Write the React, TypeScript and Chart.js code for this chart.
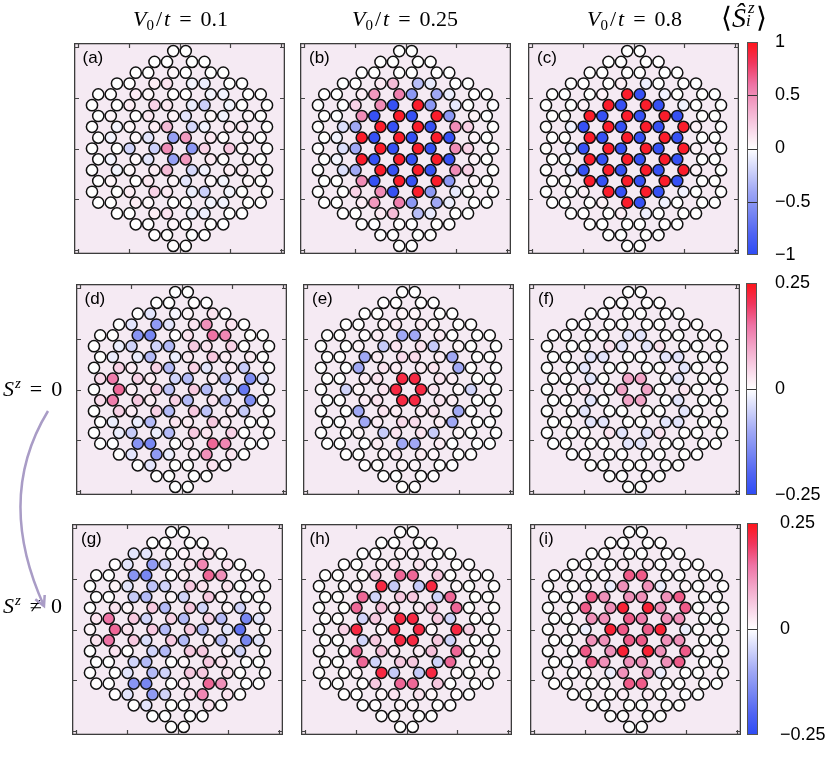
import React, { useEffect, useRef } from "react";
import { Chart, registerables } from "chart.js";
Chart.register(...registerables);

// ---------- lattice description (honeycomb flake, rows from top k=-9 to bottom k=9) ----------
const ROW_K = [-9, -8, -7, -6, -5, -4, -3, -2, -1, 0, 1, 2, 3, 4, 5, 6, 7, 8, 9];
const ODD_ROW_X = [-6.5, -5.5, -3.5, -2.5, -0.5, 0.5, 2.5, 3.5, 5.5, 6.5];
const EVEN_ROW_X = [-7, -5, -4, -2, -1, 1, 2, 4, 5, 7];
const ROW_HALF_WIDTH = [0.5, 2, 3.5, 5, 6.5, 7, 6.5, 7, 6.5, 7, 6.5, 7, 6.5, 7, 6.5, 5, 3.5, 2, 0.5];
const ROW_STEP = Math.sqrt(3) / 2;

// ---------- <S_i^z> values, row by row (left to right) ----------
const SZ_A = [
  [0, 0],
  [0, 0, 0, 0],
  [0, 0, 0.04, 0, 0, 0],
  [0, 0, 0.08, 0.12, -0.05, -0.08, 0, 0],
  [0, 0, 0.08, 0.03, 0, 0, -0.05, -0.06, 0, 0],
  [0, 0, 0.08, 0.2, 0.1, -0.08, -0.22, -0.05, 0, 0],
  [0, 0.04, 0, 0.1, 0.05, -0.12, 0.03, -0.05, 0.04, 0],
  [0, -0.05, 0.03, 0.08, 0.3, -0.18, -0.06, 0.08, 0.08, 0],
  [0, -0.05, 0.03, -0.12, -0.45, 0.45, 0.1, 0.02, 0.05, 0],
  [0, 0, -0.2, -0.22, 0.5, -0.5, 0.2, 0.25, 0.03, 0],
  [0, -0.05, 0.03, -0.12, -0.45, 0.45, 0.1, 0.02, 0.05, 0],
  [0, -0.05, 0.03, 0.08, 0.3, -0.18, -0.06, 0.08, 0.08, 0],
  [0, 0.04, 0, 0.1, 0.05, -0.12, 0.03, -0.05, 0.04, 0],
  [0, 0, 0.08, 0.2, 0.1, -0.08, -0.22, -0.05, 0, 0],
  [0, 0, 0.08, 0.03, 0, 0, -0.05, -0.06, 0, 0],
  [0, 0, 0.08, 0.12, -0.05, -0.08, 0, 0],
  [0, 0, 0.04, 0, 0, 0],
  [0, 0, 0, 0],
  [0, 0],
];
const SZ_B = [
  [0, 0],
  [0, 0, 0, 0],
  [0, 0, 0, 0, 0, 0],
  [0, 0, 0.1, 0.3, -0.3, -0.1, 0, 0],
  [0, 0, 0.08, 0.45, 0.55, -0.5, -0.4, -0.08, 0, 0],
  [0, 0, 0.2, 0.5, -0.95, 0.95, -0.5, -0.1, 0, 0],
  [0, 0, 0.5, -0.95, 0.95, -0.95, 0.95, -0.5, 0.05, 0],
  [0, -0.15, -0.4, 0.95, -0.95, 0.95, -0.95, 0.5, 0.2, 0],
  [0, -0.05, 0.95, -0.95, 0.95, -0.95, 0.95, -0.95, 0.05, 0],
  [0, -0.15, -0.4, 0.95, -0.95, 0.95, -0.95, 0.5, 0.2, 0],
  [0, -0.05, 0.95, -0.95, 0.95, -0.95, 0.95, -0.95, 0.05, 0],
  [0, -0.15, -0.4, 0.95, -0.95, 0.95, -0.95, 0.5, 0.2, 0],
  [0, 0, 0.5, -0.95, 0.95, -0.95, 0.95, -0.5, 0.05, 0],
  [0, 0, 0.2, 0.5, -0.95, 0.95, -0.5, -0.1, 0, 0],
  [0, 0, 0.08, 0.45, 0.55, -0.5, -0.4, -0.08, 0, 0],
  [0, 0, 0.1, 0.3, -0.3, -0.1, 0, 0],
  [0, 0, 0, 0, 0, 0],
  [0, 0, 0, 0],
  [0, 0],
];
const SZ_C = [
  [0, 0],
  [0, 0, 0, 0],
  [0, 0, 0, 0, 0, 0],
  [0, 0, 0, 0.07, -0.07, 0, 0, 0],
  [0, 0, 0, 0.06, 0.95, -0.95, -0.06, 0, 0, 0],
  [0, 0, 0.06, 0.95, -0.95, 0.95, -0.95, -0.06, 0, 0],
  [0, 0, 0.95, -0.95, 0.95, -0.95, 0.95, -0.95, 0, 0],
  [0, -0.06, -0.95, 0.95, -0.95, 0.95, -0.95, 0.95, 0.06, 0],
  [0, 0, 0.95, -0.95, 0.95, -0.95, 0.95, -0.95, 0, 0],
  [0, -0.06, -0.95, 0.95, -0.95, 0.95, -0.95, 0.95, 0.06, 0],
  [0, 0, 0.95, -0.95, 0.95, -0.95, 0.95, -0.95, 0, 0],
  [0, -0.06, -0.95, 0.95, -0.95, 0.95, -0.95, 0.95, 0.06, 0],
  [0, 0, 0.95, -0.95, 0.95, -0.95, 0.95, -0.95, 0, 0],
  [0, 0, 0.06, 0.95, -0.95, 0.95, -0.95, -0.06, 0, 0],
  [0, 0, 0, 0.06, 0.95, -0.95, -0.06, 0, 0, 0],
  [0, 0, 0, 0.07, -0.07, 0, 0, 0],
  [0, 0, 0, 0, 0, 0],
  [0, 0, 0, 0],
  [0, 0],
];
const SZ_D = [
  [0, 0],
  [0, 0, 0, 0],
  [0, -0.03, -0.01, 0.01, 0.03, 0],
  [0, -0.03, -0.12, -0.03, 0.03, 0.12, 0.03, 0],
  [0, 0, -0.13, -0.15, 0, 0.03, 0.15, 0.13, 0, 0],
  [0, -0.02, -0.05, -0.05, -0.08, 0.06, 0.03, 0.05, 0, 0],
  [0, -0.02, -0.02, -0.08, -0.02, 0.02, 0.06, 0.02, 0.02, 0],
  [0, 0.05, 0.02, 0.05, -0.08, 0.05, -0.03, 0.02, -0.06, 0],
  [0.04, 0.14, 0.05, 0.02, -0.05, -0.08, 0.02, -0.08, -0.14, -0.03],
  [0, 0.16, 0.02, 0.05, -0.07, 0.06, -0.08, -0.02, -0.17, 0],
  [0.04, 0.14, 0.06, 0.02, 0.05, -0.08, 0.03, -0.08, -0.14, 0],
  [0, 0.05, 0.02, 0.05, -0.08, 0.06, -0.07, 0.02, -0.06, 0],
  [0, -0.02, -0.02, -0.08, 0.03, 0.02, 0.06, 0.02, 0, 0],
  [0, -0.02, -0.06, -0.02, -0.08, 0.06, 0.03, 0.05, 0, 0],
  [0, 0, -0.13, -0.15, 0, 0.02, 0.16, 0.13, 0, 0],
  [0, -0.03, -0.12, -0.02, 0.02, 0.12, 0.03, 0],
  [0, -0.03, 0, 0, 0.03, 0],
  [0, 0, 0, 0],
  [0, 0],
];
const SZ_E = [
  [0, 0],
  [0, 0, 0, 0],
  [0, 0, 0.01, 0.01, 0, 0],
  [0, 0, 0.01, 0.02, 0.02, 0.01, 0, 0],
  [0, 0, 0, 0.02, -0.1, -0.1, 0.02, 0, 0, 0],
  [0, 0, 0.01, -0.06, 0.03, 0.03, -0.06, 0.01, 0, 0],
  [0, 0, -0.1, 0.02, 0.04, 0.04, 0.02, -0.1, 0, 0],
  [0, 0, -0.1, 0.03, 0.02, 0.02, 0.03, -0.1, 0, 0],
  [0, 0, 0.02, 0.03, 0.22, 0.22, 0.03, 0.02, 0, 0],
  [0, -0.05, 0.01, 0.03, 0.22, 0.22, 0.03, 0.01, -0.05, 0],
  [0, 0, 0.02, 0.03, 0.22, 0.22, 0.03, 0.02, 0, 0],
  [0, 0, -0.1, 0.03, 0.02, 0.02, 0.03, -0.1, 0, 0],
  [0, 0, -0.1, 0.02, 0.04, 0.04, 0.02, -0.1, 0, 0],
  [0, 0, 0.01, -0.06, 0.03, 0.03, -0.06, 0.01, 0, 0],
  [0, 0, 0, 0.02, -0.1, -0.1, 0.02, 0, 0, 0],
  [0, 0, 0.01, 0.02, 0.02, 0.01, 0, 0],
  [0, 0, 0.01, 0.01, 0, 0],
  [0, 0, 0, 0],
  [0, 0],
];
const SZ_F = [
  [0, 0],
  [0, 0, 0, 0],
  [0, 0, 0, 0, 0, 0],
  [0, 0, 0, 0, 0, 0, 0, 0],
  [0, 0, 0, 0, -0.03, -0.03, 0, 0, 0, 0],
  [0, 0, 0, 0.03, -0.03, -0.03, 0.03, 0, 0, 0],
  [0, 0, -0.03, -0.03, 0, 0, -0.03, -0.03, 0, 0],
  [0, 0, -0.03, 0, 0, 0, 0, -0.03, 0, 0],
  [0, 0, -0.03, 0, 0.1, 0.1, 0, -0.03, 0, 0],
  [0, 0, 0.03, 0, 0.1, 0.1, 0, 0.03, 0, 0],
  [0, 0, -0.03, 0, 0.1, 0.1, 0, -0.03, 0, 0],
  [0, 0, -0.03, 0, 0, 0, 0, -0.03, 0, 0],
  [0, 0, -0.03, -0.03, 0, 0, -0.03, -0.03, 0, 0],
  [0, 0, 0, 0.03, -0.03, -0.03, 0.03, 0, 0, 0],
  [0, 0, 0, 0, -0.03, -0.03, 0, 0, 0, 0],
  [0, 0, 0, 0, 0, 0, 0, 0],
  [0, 0, 0, 0, 0, 0],
  [0, 0, 0, 0],
  [0, 0],
];
const SZ_G = [
  [0, 0],
  [0, 0, 0, 0],
  [-0.03, -0.03, 0, 0.01, 0.03, 0],
  [0, -0.03, -0.12, -0.05, 0.03, 0.13, 0.03, 0],
  [0, 0, -0.13, -0.15, 0, 0.02, 0.16, 0.12, 0, 0],
  [0, 0.01, -0.03, -0.07, -0.05, 0.06, 0.03, 0.03, 0, 0],
  [0, 0, -0.06, -0.08, 0.01, -0.05, 0.06, 0.01, 0, 0],
  [0, 0.03, 0.01, 0.06, -0.08, 0.06, -0.05, 0.01, -0.05, 0],
  [0.03, 0.15, 0.06, -0.05, 0.05, -0.08, 0.05, -0.08, -0.15, -0.03],
  [0.01, 0.16, 0.03, 0.06, -0.08, 0.06, -0.08, -0.03, -0.18, 0],
  [0.03, 0.15, 0.06, -0.04, 0.06, -0.08, 0.02, -0.08, -0.15, -0.03],
  [0, 0.03, 0, -0.05, -0.08, 0.06, 0.06, 0.01, -0.05, 0],
  [0, 0, -0.05, -0.08, 0, 0.01, 0.06, 0.03, 0, 0],
  [0, 0, -0.03, -0.08, -0.05, 0.06, 0.06, 0.03, 0, 0],
  [0, 0, -0.13, -0.15, 0, 0.02, 0.16, 0.12, 0, 0],
  [0, -0.03, -0.12, -0.05, 0.03, 0.13, 0.03, 0],
  [0, -0.03, 0, 0, 0.03, 0],
  [0, 0, 0, 0],
  [0, 0],
];
const SZ_H = [
  [0, 0],
  [0, 0, 0, 0],
  [0, 0, 0.01, 0.01, 0, 0],
  [0, 0, 0.01, 0.03, 0.03, 0.01, 0, 0],
  [0, 0, 0, 0.06, 0.16, 0.16, 0.06, 0, 0, 0],
  [0, 0, 0.01, 0.22, -0.06, -0.06, 0.22, 0.01, 0, 0],
  [0, 0, 0.16, -0.05, 0.06, 0.06, -0.05, 0.16, 0, 0],
  [0, 0, 0.16, 0.07, 0.02, 0.02, 0.07, 0.16, 0, 0],
  [0, 0, -0.05, 0.06, 0.22, 0.22, 0.06, -0.05, 0, 0],
  [0, 0.05, 0.22, 0.01, 0.22, 0.22, 0.01, 0.22, 0.05, 0],
  [0, 0, -0.05, 0.06, 0.22, 0.22, 0.06, -0.05, 0, 0],
  [0, 0, 0.16, 0.07, 0.02, 0.02, 0.07, 0.16, 0, 0],
  [0, 0, 0.16, -0.05, 0.06, 0.06, -0.05, 0.16, 0, 0],
  [0, 0, 0.01, 0.22, -0.06, -0.06, 0.22, 0.01, 0, 0],
  [0, 0, 0, 0.06, 0.16, 0.16, 0.06, 0, 0, 0],
  [0, 0, 0.01, 0.03, 0.03, 0.01, 0, 0],
  [0, 0, 0.01, 0.01, 0, 0],
  [0, 0, 0, 0],
  [0, 0],
];
const SZ_I = [
  [0, 0],
  [0, 0, 0, 0],
  [0, 0, 0, 0, 0, 0],
  [0, 0, 0, 0.02, 0.02, 0, 0, 0],
  [0, 0, 0, 0, 0.17, 0.17, 0, 0, 0, 0],
  [0, 0, 0, -0.02, 0.12, 0.12, -0.02, 0.01, 0, 0],
  [0, 0, 0.17, 0.12, 0.12, 0.12, 0.12, 0.17, 0, 0],
  [0, 0, 0.17, 0.12, 0.23, 0.23, 0.12, 0.17, 0, 0],
  [0, 0, 0.12, 0.12, 0.17, 0.14, 0.12, 0.12, 0, 0],
  [0, 0, -0.02, 0.23, 0.17, 0.17, 0.23, -0.02, 0, 0],
  [0, 0, 0.12, 0.12, 0.17, 0.17, 0.12, 0.12, 0, 0],
  [0, 0, 0.17, 0.12, 0.23, 0.23, 0.12, 0.17, 0, 0],
  [0, 0, 0.17, 0.12, 0.12, 0.12, 0.12, 0.17, 0, 0],
  [0, 0, 0, -0.02, 0.12, 0.12, -0.02, 0, 0, 0],
  [0, 0, 0, 0, 0.17, 0.17, 0, 0, 0, 0],
  [0, 0, 0, 0.02, 0.02, 0, 0, 0],
  [0, 0, 0, 0, 0, 0],
  [0, 0, 0, 0],
  [0, 0],
];

const PANEL_LABELS = ["(a)", "(b)", "(c)", "(d)", "(e)", "(f)", "(g)", "(h)", "(i)"];
const TITLE_VALUES = ["0.1", "0.25", "0.8"];
const CB_TICKS_TOP = [-1, -0.5, 0, 0.5, 1];
const CB_LINES_TOP = [-0.5, 0, 0.5];
const CB_TICKS_LOW = [-0.25, 0, 0.25];
const CB_LINES_LOW = [0];
const FRAME_TICKS = [-8.12, -4.06, 0, 4.06, 8.12];

// colormap (value normalised to -1..1)
const CMAP_POS = [-1, -0.8, -0.6, -0.4, -0.2, 0, 0.2, 0.4, 0.6, 0.8, 1];
const CMAP_RGB = [
  [45, 75, 245], [80, 100, 242], [120, 135, 242], [160, 168, 245], [208, 212, 250],
  [255, 255, 255],
  [248, 210, 230], [242, 165, 200], [238, 115, 165], [240, 55, 95], [255, 20, 25],
];

const BG = "#f5eaf3";
const FRAME = "#3c3c3c";
const AXIS_HALF = 8.44;
const PANEL_SIZE = 211;
const SANS = '"Liberation Sans", Arial, sans-serif';
const SERIF = '"Liberation Serif", "Times New Roman", serif';

function colormap(t: number): string {
  const v = Math.max(-1, Math.min(1, t));
  for (let i = 0; i < CMAP_POS.length - 1; i++) {
    if (v <= CMAP_POS[i + 1]) {
      const f = (v - CMAP_POS[i]) / (CMAP_POS[i + 1] - CMAP_POS[i]);
      const a = CMAP_RGB[i], b = CMAP_RGB[i + 1];
      const c = a.map((x, j) => Math.round(x + (b[j] - x) * f));
      return `rgb(${c[0]},${c[1]},${c[2]})`;
    }
  }
  const l = CMAP_RGB[CMAP_RGB.length - 1];
  return `rgb(${l[0]},${l[1]},${l[2]})`;
}

function rowSites(k: number): number[] {
  const base = Math.abs(k) % 2 === 1 ? ODD_ROW_X : EVEN_ROW_X;
  const half = ROW_HALF_WIDTH[k + 9];
  return base.filter((x) => Math.abs(x) <= half + 1e-9);
}

const panelFramePlugin = {
  id: "panelFrame",
  beforeDraw(chart: any) {
    const { ctx, chartArea: a } = chart;
    ctx.save();
    ctx.fillStyle = BG;
    ctx.fillRect(a.left, a.top, a.right - a.left, a.bottom - a.top);
    ctx.restore();
  },
  afterDraw(chart: any) {
    const { ctx, chartArea: a, scales } = chart;
    ctx.save();
    ctx.strokeStyle = FRAME;
    ctx.lineWidth = 1.3;
    ctx.strokeRect(a.left + 0.65, a.top + 0.65, a.right - a.left - 1.3, a.bottom - a.top - 1.3);
    ctx.lineWidth = 1.2;
    ctx.strokeStyle = "#444";
    const L = 5;
    ctx.beginPath();
    FRAME_TICKS.forEach((v) => {
      const px = Math.round(scales.x.getPixelForValue(v)) + 0.5;
      const py = Math.round(scales.y.getPixelForValue(v)) + 0.5;
      ctx.moveTo(px, a.top); ctx.lineTo(px, a.top + L);
      ctx.moveTo(px, a.bottom); ctx.lineTo(px, a.bottom - L);
      ctx.moveTo(a.left, py); ctx.lineTo(a.left + L, py);
      ctx.moveTo(a.right, py); ctx.lineTo(a.right - L, py);
    });
    ctx.stroke();
    ctx.restore();
  },
};

function Panel({ values, range, label, cx, cy }: any) {
  const ref = useRef<HTMLCanvasElement>(null);
  useEffect(() => {
    const points: { x: number; y: number }[] = [];
    const colors: string[] = [];
    ROW_K.forEach((k, r) => {
      rowSites(k).forEach((x, j) => {
        points.push({ x, y: -k * ROW_STEP });
        colors.push(colormap(values[r][j] / range));
      });
    });
    const chart = new Chart(ref.current as HTMLCanvasElement, {
      type: "scatter",
      data: {
        datasets: [
          {
            data: points,
            pointRadius: 5.6,
            pointHoverRadius: 5.6,
            pointBackgroundColor: colors,
            pointBorderColor: "#111",
            pointBorderWidth: 1.5,
            pointHoverBorderWidth: 1.5,
          } as any,
        ],
      },
      options: {
        animation: false,
        responsive: false,
        events: [],
        layout: { padding: 0, autoPadding: false },
        plugins: { legend: { display: false }, tooltip: { enabled: false } },
        scales: {
          x: { type: "linear", display: false, min: -AXIS_HALF, max: AXIS_HALF },
          y: { type: "linear", display: false, min: -AXIS_HALF, max: AXIS_HALF },
        },
      },
      plugins: [panelFramePlugin],
    });
    return () => chart.destroy();
  }, []);
  const left = cx - PANEL_SIZE / 2;
  const top = cy - PANEL_SIZE / 2;
  return (
    <>
      <canvas
        ref={ref}
        width={PANEL_SIZE}
        height={PANEL_SIZE}
        style={{ position: "absolute", left, top, width: PANEL_SIZE, height: PANEL_SIZE }}
      />
      <div style={{ position: "absolute", left: left + 9, top: top + 5, fontFamily: SANS, fontSize: 17, lineHeight: "20px" }}>
        {label}
      </div>
    </>
  );
}

function fmt(v: number): string {
  if (v === 0) return "0";
  return v < 0 ? "\u2212" + String(-v) : String(v);
}

function Colorbar({ left, top, height, range, ticks, lines, pad }: any) {
  const ref = useRef<HTMLCanvasElement>(null);
  const BAR_W = 11;
  const AXIS_W = 78;
  const PADV = 40;
  useEffect(() => {
    const cbPlugin = {
      id: "cbGrad",
      beforeDatasetsDraw(chart: any) {
        const { ctx, chartArea: a, scales } = chart;
        ctx.save();
        const g = ctx.createLinearGradient(0, a.bottom, 0, a.top);
        CMAP_POS.forEach((p, i) => {
          const c = CMAP_RGB[i];
          g.addColorStop((p + 1) / 2, `rgb(${c[0]},${c[1]},${c[2]})`);
        });
        ctx.fillStyle = g;
        ctx.fillRect(a.left, a.top, a.right - a.left, a.bottom - a.top);
        ctx.strokeStyle = "#333";
        ctx.lineWidth = 1;
        ctx.beginPath();
        lines.forEach((v: number) => {
          const py = Math.round(scales.y.getPixelForValue(v)) + 0.5;
          ctx.moveTo(a.left, py);
          ctx.lineTo(a.right, py);
        });
        ctx.stroke();
        ctx.strokeStyle = "#555";
        ctx.strokeRect(a.left + 0.5, a.top + 0.5, a.right - a.left - 1, a.bottom - a.top - 1);
        ctx.restore();
      },
    };
    const chart = new Chart(ref.current as HTMLCanvasElement, {
      type: "scatter",
      data: { datasets: [{ data: [] }] },
      options: {
        animation: false,
        responsive: false,
        events: [],
        layout: { padding: { top: PADV, bottom: PADV, left: 0, right: 0 }, autoPadding: false },
        plugins: { legend: { display: false }, tooltip: { enabled: false } },
        scales: {
          x: { type: "linear", display: false, min: 0, max: 1 },
          y: {
            type: "linear",
            position: "right",
            min: -range,
            max: range,
            afterBuildTicks: (s: any) => {
              s.ticks = ticks.map((v: number) => ({ value: v }));
            },
            afterFit: (s: any) => {
              s.width = AXIS_W;
              s.paddingTop = 0;
              s.paddingBottom = 0;
            },
            grid: { display: false, drawTicks: false },
            border: { display: false },
            ticks: {
              padding: pad,
              color: "#000",
              crossAlign: "near",
              font: { family: SANS, size: 18 },
              callback: (v: any) => fmt(Number(v)),
            },
          },
        },
      },
      plugins: [cbPlugin],
    });
    return () => chart.destroy();
  }, []);
  const w = BAR_W + AXIS_W;
  const h = height + 2 * PADV;
  return (
    <canvas
      ref={ref}
      width={w}
      height={h}
      style={{ position: "absolute", left, top: top - PADV, width: w, height: h }}
    />
  );
}

function Title({ cx, value }: any) {
  return (
    <div
      style={{
        position: "absolute",
        left: cx,
        top: 7,
        transform: "translateX(-50%)",
        fontFamily: SERIF,
        fontSize: 22,
        lineHeight: "24px",
        whiteSpace: "nowrap",
      }}
    >
      <i>V</i>
      <span style={{ fontSize: 15, position: "relative", top: 4 }}>0</span>
      <span style={{ margin: "0 2px" }}>/</span>
      <i>t</i>
      <span style={{ margin: "0 9px" }}>=</span>
      {value}
    </div>
  );
}

function SzLabel({ top, rel }: any) {
  return (
    <div
      style={{ position: "absolute", left: 3, top, fontFamily: SERIF, fontSize: 22, lineHeight: "24px", whiteSpace: "nowrap" }}
    >
      <i>S</i>
      <i style={{ fontSize: 15, position: "relative", top: -8, marginLeft: 1 }}>z</i>
      <span style={{ margin: "0 9px" }}>{rel}</span>0
    </div>
  );
}

const PANELS = [
  { values: SZ_A, range: 1, cx: 179, cy: 148.5 },
  { values: SZ_B, range: 1, cx: 405.5, cy: 148.5 },
  { values: SZ_C, range: 1, cx: 633.5, cy: 148.5 },
  { values: SZ_D, range: 0.25, cx: 181, cy: 389 },
  { values: SZ_E, range: 0.25, cx: 408.5, cy: 389 },
  { values: SZ_F, range: 0.25, cx: 634.5, cy: 389 },
  { values: SZ_G, range: 0.25, cx: 177.5, cy: 629 },
  { values: SZ_H, range: 0.25, cx: 406, cy: 629 },
  { values: SZ_I, range: 0.25, cx: 635, cy: 629 },
];

export default function App() {
  return (
    <div style={{ position: "absolute", left: 0, top: 0, width: 830, height: 769, background: "#fff", overflow: "hidden" }}>
      {PANELS.map((p, i) => (
        <Panel key={i} {...p} label={PANEL_LABELS[i]} />
      ))}
      <Colorbar left={746.5} top={42} height={213} range={1} ticks={CB_TICKS_TOP} lines={CB_LINES_TOP} pad={17} />
      <Colorbar left={745.5} top={282.5} height={212} range={0.25} ticks={CB_TICKS_LOW} lines={CB_LINES_LOW} pad={18} />
      <Colorbar left={746.5} top={523} height={212} range={0.25} ticks={CB_TICKS_LOW} lines={CB_LINES_LOW} pad={22} />
      <Title cx={180.5} value={TITLE_VALUES[0]} />
      <Title cx={405} value={TITLE_VALUES[1]} />
      <Title cx={634.5} value={TITLE_VALUES[2]} />
      <div style={{ position: "absolute", left: 721, top: 2, fontFamily: SERIF, fontSize: 28, lineHeight: "32px", whiteSpace: "nowrap" }}>
        <span>{"\u27E8"}</span>
        <i>{"\u015C"}</i>
        <span style={{ position: "relative", display: "inline-block", width: 10, height: 0 }}>
          <i style={{ position: "absolute", left: 2, top: -28, fontSize: 17, lineHeight: "17px" }}>z</i>
          <i style={{ position: "absolute", left: 0, top: -15, fontSize: 17, lineHeight: "17px" }}>i</i>
        </span>
        <span>{"\u27E9"}</span>
      </div>
      <SzLabel top={377} rel="=" />
      <SzLabel top={594} rel={"\u2260"} />
      <svg width={70} height={769} style={{ position: "absolute", left: 0, top: 0, pointerEvents: "none" }}>
        <path d="M 48 411 Q -5 498 44 606" fill="none" stroke="#a99cc6" strokeWidth={2.5} />
        <path d="M 44.7 595 L 44 606 L 35.3 599.3" fill="none" stroke="#a99cc6" strokeWidth={2.5} strokeLinejoin="miter" />
      </svg>
    </div>
  );
}
